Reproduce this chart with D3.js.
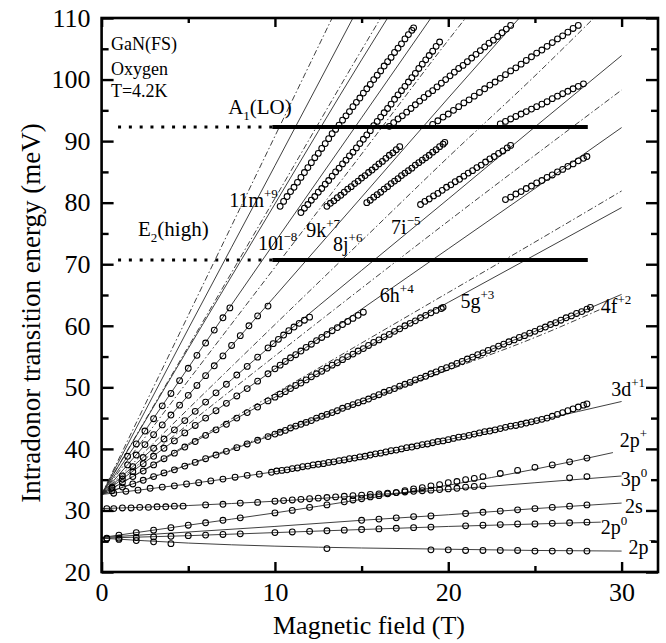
<!DOCTYPE html>
<html><head><meta charset="utf-8">
<script src="https://cdn.jsdelivr.net/npm/d3@7"></script>
<style>
body{margin:0;background:#fff}
</style></head>
<body>
<svg id="chart" width="666" height="643"></svg>
<script>
// ---- axis ticks ----
const yMajor = [20,30,40,50,60,70,80,90,100,110];
const yMinor = [25,35,45,55,65,75,85,95,105];
const xMajor = [0,10,20,30];
const xMinor = [5,15,25];

// ---- phonon energies (meV) ----
const phononLO = 92.3;   // A1(LO)
const phononE2 = 70.7;   // E2(high)

// ---- theory curves, solid (B in T, E in meV) ----
const fit2pMinus = [[0,25.5],[5,24.7],[10,24.2],[15,23.9],[20,23.7],[25,23.5],[30,23.4]];
const fit2p0 = [[0,25.5],[5,25.9],[10,26.4],[15,26.9],[20,27.4],[25,27.8],[28.8,28.1]];
const fit2s = [[0,25.6],[5,26.5],[10,27.4],[15,28.4],[20,29.3],[25,30.3],[30,31.2]];
const fit2pPlus = [[0,25.6],[5,27.6],[10,29.6],[15,31.8],[20,34.1],[25,36.7],[29.5,39.4]];
const fit3p0 = [[0,30.3],[5,30.8],[10,31.5],[15,32.4],[20,33.4],[25,34.5],[30,35.6]];
const fit3d = [[0,32.6],[5,34.3],[10,36.3],[15,38.7],[20,41.5],[25,44.5],[30,47.7]];
const fit4f = [[0,32.6],[5,37.4],[10,42.4],[15,47.7],[20,53.3],[25,59.1],[30,65.1]];
const fit5g = [[0,32.6],[5,40.6],[10,48.4],[15,56.1],[20,63.8],[25,71.5],[30,79.2]];
const fit6h = [[0,32.6],[5,43.0],[10,53.0],[15,62.7],[20,72.5],[25,82.3],[30,92.2]];
const fit7i = [[0,32.6],[5,45.1],[10,57.3],[15,69.0],[20,80.6],[25,92.3],[30,103.9]];
const fit8j = [[0,32.6],[5,48.7],[10,64.8],[15,80.9],[20,97.0],[24.1,110]];
const fit9k = [[0,32.6],[5,53.2],[10,73.6],[15,93.8],[19,110]];
const fit10l = [[0,32.6],[5,56.3],[10,79.8],[15,103.2],[16.5,110]];
const fit11m = [[0,32.6],[5,59.5],[10,86.0],[14.5,110]];

// ---- theory curves, dash-dot ----
const alt1 = [[0,32.6],[5,37.5],[10,42.6],[15,47.7],[20,52.8],[25,58.1],[28.8,62.7]];
const alt2 = [[0,32.6],[5,40.8],[10,49.0],[15,57.2],[20,65.4],[25,73.6],[30,81.9]];
const alt3 = [[0,32.6],[5,44.0],[10,55.1],[15,66.1],[20,77.0],[25,87.7],[30,98.3]];
const alt4 = [[0,32.6],[5,46.5],[10,60.2],[15,73.8],[20,87.4],[25,100.6],[28.4,110]];
const alt5 = [[0,32.6],[5,51.1],[10,69.5],[15,87.9],[20,106.4],[21,110]];
const alt6 = [[0,32.6],[5,56.6],[10,80.7],[15,104.8],[16.1,110]];
const alt7 = [[0,32.6],[5,61.7],[10,90.8],[13.3,110]];

// ---- measured transitions ----
const d2pMinus = [[0.3,25.4],[1,25.3],[2,25.1],[3,24.9],[4,24.6],[13,23.8],[19,23.6],[20,23.6],[21,23.5],[22,23.5],[23,23.5],[24,23.5],[25,23.4],[26,23.4],[27,23.4],[28,23.4]];
const d2p0 = [[0.3,25.5],[1,25.5],[2,25.6],[3,25.7],[4,25.8],[5,25.9],[6,26.0],[7,26.1],[8,26.2],[10,26.4],[11,26.5],[12,26.6],[13,26.7],[14,26.8],[15,26.9],[16,27.0],[17,27.1],[18,27.2],[19,27.3],[21,27.5],[22,27.6],[23,27.7],[24,27.8],[25,27.8],[26,27.9],[27,28.0],[28,28.1]];
const d2s = [[15,28.4],[16,28.6],[17,28.8],[18,29.0],[19,29.1],[21,29.5],[22,29.7],[23,29.9],[24,30.1],[25,30.3],[26,30.5],[27,30.7],[28,30.9]];
const d2pPlus = [[1,26.0],[2,26.4],[3,26.8],[4,27.2],[5,27.6],[6,28.0],[7,28.4],[8,28.8],[10,29.6],[11,30.0],[12,30.5],[13,30.9],[14,31.4],[14.5,31.7],[15,31.9],[15.5,32.2],[16,32.4],[16.5,32.7],[17,32.9],[17.5,33.2],[18,33.5],[18.5,33.7],[19,34.0],[19.5,34.2],[20,34.5],[20.5,34.7],[21,35.0],[21.5,35.2],[22,35.5],[23,36.0],[24,36.5],[25,37.0],[26,37.4],[27,37.9],[28,38.5]];
const d3p0 = [[0.3,30.3],[0.7,30.3],[1.2,30.4],[1.7,30.4],[2.2,30.5],[2.7,30.5],[3.2,30.6],[3.7,30.6],[4.2,30.7],[4.7,30.7],[6,30.9],[7,31.0],[8,31.2],[9,31.3],[10,31.5],[10.5,31.6],[11,31.7],[11.5,31.8],[12,31.9],[12.5,32.0],[13,32.1],[13.5,32.2],[14,32.3],[14.5,32.4],[15,32.5],[15.5,32.6],[16,32.7],[16.5,32.8],[17,32.9],[17.5,33.0],[18,33.1],[18.5,33.2],[19,33.3],[19.5,33.4],[20,33.5],[20.5,33.6],[21,33.8],[21.5,33.9],[22,34.0],[27,35.3],[28,35.5]];
const d3d = [[0.7,32.8],[1.4,33.1],[2.1,33.3],[2.8,33.6],[3.5,33.8],[4.2,34.0],[4.9,34.3],[5.6,34.5],[6.3,34.8],[7.0,35.1],[7.7,35.4],[8.4,35.7],[9.1,35.9],[9.8,36.2],
 [10.1,36.4],[10.4,36.5],[10.7,36.6],[11.0,36.8],[11.3,36.9],[11.6,37.1],[11.9,37.2],[12.2,37.4],[12.5,37.5],[12.8,37.6],[13.1,37.8],[13.4,37.9],[13.7,38.1],[14.0,38.2],[14.3,38.4],[14.6,38.5],[14.9,38.7],[15.2,38.8],[15.5,39.0],[15.8,39.2],[16.1,39.3],[16.4,39.5],[16.7,39.7],[17.0,39.8],[17.3,40.0],[17.6,40.2],[17.9,40.3],[18.2,40.5],[18.5,40.7],[18.8,40.8],[19.1,41.0],[19.4,41.2],[19.7,41.3],[20.0,41.5],[20.3,41.7],[20.6,41.9],[20.9,42.0],[21.2,42.2],[21.5,42.4],[21.8,42.6],[22.1,42.8],[22.4,42.9],[22.7,43.1],[23.0,43.3],[23.3,43.5],[23.6,43.7],[23.9,43.8],[24.2,44.0],[24.5,44.2],[24.8,44.4],[25.1,44.6],[25.4,44.8],[25.7,45.0],[26.0,45.3],[26.3,45.6],[26.6,45.9],[26.9,46.2],[27.2,46.5],[27.5,46.8],[27.8,47.1],[28.0,47.3]];
const d4f = [[0.6,33.2],[1.2,33.8],[1.8,34.3],[2.4,34.9],[3.0,35.5],[3.6,36.1],[4.2,36.6],[4.8,37.2],[5.4,37.8],[6.0,38.4],[6.6,39.0],[7.2,39.6],[7.8,40.2],[8.4,40.8],[9.0,41.4],[9.6,42.0],
 [10.0,42.4],[10.3,42.7],[10.6,43.0],[10.9,43.4],[11.2,43.7],[11.5,44.0],[11.8,44.3],[12.1,44.6],[12.4,45.0],[12.7,45.3],[13.0,45.6],[13.3,45.9],[13.6,46.2],[13.9,46.6],[14.2,46.9],[14.5,47.2],[14.8,47.5],[15.1,47.8],[15.4,48.1],[15.7,48.5],[16.0,48.8],[16.3,49.2],[16.6,49.5],[16.9,49.8],[17.2,50.2],[17.5,50.5],[17.8,50.8],[18.1,51.2],[18.4,51.5],[18.7,51.8],[19.0,52.2],[19.3,52.5],[19.6,52.9],[19.9,53.2],[20.2,53.5],[20.5,53.9],[20.8,54.2],[21.1,54.6],[21.4,54.9],[21.7,55.3],[22.0,55.6],[22.3,56.0],[22.6,56.3],[22.9,56.7],[23.2,57.0],[23.5,57.4],[23.8,57.7],[24.1,58.1],[24.4,58.4],[24.7,58.8],[25.0,59.1],[25.3,59.5],[25.6,59.8],[25.9,60.2],[26.2,60.5],[26.5,60.9],[26.8,61.3],[27.1,61.6],[27.4,62.0],[27.7,62.3],[28.0,62.7],[28.2,63.0]];
const d5g = [[0.6,33.6],[1.2,34.5],[1.8,35.5],[2.4,36.4],[3.0,37.4],[3.6,38.4],[4.2,39.3],[4.8,40.3],[5.4,41.2],[6.0,42.2],[6.6,43.1],[7.2,44.0],[7.8,45.0],[8.4,45.9],[9.0,46.8],[9.6,47.8],
 [10.0,48.4],[10.3,48.9],[10.6,49.3],[10.9,49.8],[11.2,50.3],[11.5,50.7],[11.8,51.2],[12.1,51.7],[12.4,52.2],[12.7,52.6],[13.0,53.1],[13.3,53.6],[13.6,54.0],[13.9,54.5],[14.2,55.0],[14.5,55.4],[14.8,55.9],[15.1,56.3],[15.4,56.8],[15.7,57.3],[16.0,57.7],[16.3,58.2],[16.6,58.6],[16.9,59.1],[17.2,59.5],[17.5,60.0],[17.8,60.4],[18.1,60.8],[18.4,61.3],[18.7,61.7],[19.0,62.1],[19.3,62.5],[19.6,62.8],[19.7,63.0]];
const d6h = [[0.6,33.8],[1.2,35.1],[1.8,36.3],[2.4,37.6],[3.0,38.8],[3.6,40.1],[4.2,41.3],[4.8,42.6],[5.4,43.8],[6.0,45.0],[6.6,46.2],[7.2,47.4],[7.8,48.6],[8.4,49.8],[9.0,51.0],[9.6,52.2],
 [10.0,53.0],[10.3,53.6],[10.6,54.2],[10.9,54.8],[11.2,55.3],[11.5,55.9],[11.8,56.5],[12.1,57.0],[12.4,57.6],[12.7,58.1],[13.0,58.6],[13.3,59.2],[13.6,59.7],[13.9,60.2],[14.2,60.7],[14.5,61.2],[14.8,61.7],[15.1,62.2]];
const d7i = [[1.2,35.6],[1.8,37.1],[2.4,38.6],[3.0,40.1],[3.6,41.6],[4.2,43.1],[4.8,44.6],[5.4,46.1],[6.0,47.6],[6.6,49.1],[7.2,50.5],[7.8,52.0],[8.4,53.4],[9.0,54.9],[9.6,56.4],
 [9.9,57.1],[10.2,57.8],[10.5,58.5],[10.8,59.2],[11.1,59.8],[11.4,60.4],[11.7,60.9],[12.0,61.4]];
const d8j = [[1.5,37.4],[2.0,39.0],[2.5,40.7],[3.0,42.3],[3.5,43.9],[4.0,45.5],[4.5,47.1],[5.0,48.7],[5.5,50.3],[6.0,51.9],[6.5,53.5],[7.0,55.1],[7.5,56.8],[8.0,58.4],[8.5,60.0],[9.0,61.6],[9.6,63.2]];
const d9k = [[1.5,38.8],[2.0,40.8],[2.5,42.9],[3.0,44.9],[3.5,47.0],[4.0,49.0],[4.5,51.1],[5.0,53.1],[5.5,55.2],[6.0,57.2],[6.5,59.3],[7.0,61.3],[7.4,62.9]];
// between the two phonon lines
const mA = [[10.3,79.4],[10.5,80.2],[10.7,81.0],[10.9,81.8],[11.1,82.5],[11.3,83.3],[11.5,84.1],[11.7,84.9],[11.9,85.7],[12.1,86.5],[12.3,87.3],[12.5,88.0],[12.7,88.8],[12.9,89.6],[13.1,90.4],[13.3,91.2],[13.5,91.9],[13.7,92.6],[13.9,93.4],[14.1,94.1],[14.3,94.8],[14.5,95.6],[14.7,96.3],[14.9,97.0],[15.1,97.8],[15.3,98.5],[15.5,99.2],[15.7,100.0],[15.9,100.7],[16.1,101.4],[16.3,102.2],[16.5,102.9],[16.7,103.6],[16.9,104.4],[17.1,105.1],[17.3,105.8],[17.5,106.6],[17.7,107.3],[17.9,108.0],[18.0,108.4]];
const mB = [[11.5,78.4],[11.7,79.1],[11.9,79.7],[12.1,80.4],[12.3,81.0],[12.5,81.7],[12.7,82.3],[12.9,83.0],[13.1,83.6],[13.3,84.3],[13.5,85.0],[13.7,85.6],[13.9,86.3],[14.1,86.9],[14.3,87.6],[14.5,88.2],[14.7,88.9],[14.9,89.6],[15.1,90.3],[15.3,91.0],[15.5,91.7],[15.7,92.5],[15.9,93.2],[16.1,93.9],[16.3,94.6],[16.5,95.3],[16.7,96.0],[16.9,96.8],[17.1,97.5],[17.3,98.2],[17.5,98.9],[17.7,99.6],[17.9,100.3],[18.1,101.0],[18.3,101.8],[18.5,102.5],[18.7,103.2],[18.9,103.9],[19.1,104.6],[19.3,105.4],[19.5,106.1]];
const mC = [[13.0,79.4],[13.2,79.9],[13.4,80.3],[13.6,80.8],[13.8,81.2],[14.0,81.7],[14.2,82.2],[14.4,82.6],[14.6,83.1],[14.8,83.5],[15.0,84.0],[15.2,84.4],[15.4,84.9],[15.6,85.3],[15.8,85.8],[16.0,86.3],[16.2,86.7],[16.4,87.2],[16.6,87.7],[16.8,88.1],[17.0,88.6],[17.2,89.1]];
const mF = [[15.3,80.0],[15.5,80.4],[15.7,80.9],[15.9,81.3],[16.1,81.7],[16.3,82.2],[16.5,82.6],[16.7,83.1],[16.9,83.5],[17.1,83.9],[17.3,84.4],[17.5,84.8],[17.7,85.2],[17.9,85.6],[18.1,86.1],[18.3,86.5],[18.5,86.9],[18.7,87.3],[18.9,87.7],[19.1,88.2],[19.3,88.6],[19.5,89.1],[19.7,89.5],[19.8,89.8]];
const mG = [[18.4,79.7],[18.65,80.2],[18.9,80.6],[19.15,81.1],[19.4,81.5],[19.65,82.0],[19.9,82.5],[20.15,82.9],[20.4,83.4],[20.65,83.8],[20.9,84.3],[21.15,84.8],[21.4,85.2],[21.65,85.7],[21.9,86.1],[22.15,86.6],[22.4,87.1],[22.65,87.5],[22.9,88.0],[23.15,88.4],[23.4,88.9],[23.6,89.3]];
const mH = [[23.3,80.5],[23.6,80.9],[23.9,81.4],[24.2,81.8],[24.5,82.3],[24.8,82.7],[25.1,83.2],[25.4,83.6],[25.7,84.1],[26.0,84.5],[26.3,85.0],[26.6,85.4],[26.9,85.9],[27.2,86.3],[27.5,86.8],[27.8,87.2],[28.0,87.5]];
// above A1(LO)
const uC = [[16.6,92.4],[16.85,93.0],[17.1,93.6],[17.35,94.1],[17.6,94.7],[17.85,95.3],[18.1,95.9],[18.35,96.5],[18.6,97.1],[18.85,97.7],[19.1,98.2],[19.35,98.8],[19.6,99.4],[19.85,100.0],[20.1,100.6],[20.35,101.2],[20.6,101.8],[20.85,102.3],[21.1,102.9],[21.35,103.5],[21.6,104.1],[21.85,104.7],[22.1,105.3],[22.35,105.9],[22.6,106.4],[22.85,107.0],[23.1,107.6],[23.35,108.2],[23.6,108.8]];
const uD = [[19.1,92.7],[19.4,93.3],[19.7,93.9],[20.0,94.4],[20.3,95.0],[20.6,95.6],[20.9,96.2],[21.2,96.7],[21.5,97.3],[21.8,97.9],[22.1,98.5],[22.4,99.1],[22.7,99.6],[23.0,100.2],[23.3,100.8],[23.6,101.4],[23.9,101.9],[24.2,102.5],[24.5,103.1],[24.8,103.7],[25.1,104.3],[25.4,104.8],[25.7,105.4],[26.0,106.0],[26.3,106.6],[26.6,107.1],[26.9,107.7],[27.2,108.3],[27.5,108.8]];
const uE = [[23.0,92.8],[23.3,93.2],[23.6,93.6],[23.9,94.0],[24.2,94.4],[24.5,94.8],[24.8,95.2],[25.1,95.6],[25.4,96.0],[25.7,96.4],[26.0,96.9],[26.3,97.3],[26.6,97.7],[26.9,98.1],[27.2,98.5],[27.5,98.9],[27.8,99.3]];

// ---- layout ----
const SERIF = "'Liberation Serif','Times New Roman',Times,serif";
const svg = d3.select("#chart").style("font-family", SERIF);
const X0 = 101.6, X1 = 658, Y0 = 572, Y1 = 18;
const x = d3.scaleLinear().domain([0, 32.1]).range([X0, X1]);
const y = d3.scaleLinear().domain([20, 110]).range([Y0, Y1]);

// text helper: every label carries its own serif face
const addText = (parent, size) => parent.append("text")
  .style("font-family", SERIF).style("font-size", size + "px").attr("fill", "#000");

svg.append("defs").append("clipPath").attr("id","plotclip")
  .append("rect").attr("x",X0).attr("y",Y1).attr("width",X1-X0).attr("height",Y0-Y1);

const plot = svg.append("g").attr("clip-path","url(#plotclip)");
const line = d3.line().x(d => x(d[0])).y(d => y(d[1])).curve(d3.curveMonotoneX);

// theory curves
const solidFits = [fit2pMinus, fit2p0, fit2s, fit2pPlus, fit3p0, fit3d, fit4f, fit5g, fit6h, fit7i, fit8j, fit9k, fit10l, fit11m];
const dashFits = [alt1, alt2, alt3, alt4, alt5, alt6, alt7];
plot.selectAll("path.fit").data(solidFits).join("path").attr("class","fit")
  .attr("d", line).attr("fill","none").attr("stroke","#2a2a2a").attr("stroke-width",0.9);
plot.selectAll("path.alt").data(dashFits).join("path").attr("class","alt")
  .attr("d", line).attr("fill","none").attr("stroke","#2a2a2a").attr("stroke-width",0.9)
  .attr("stroke-dasharray","6,2.5,1.5,2.5");

// phonon lines: dotted below 10 T, thick beyond
[phononLO, phononE2].forEach(e => {
  plot.append("line").attr("x1",x(0.95)).attr("x2",x(9.85)).attr("y1",y(e)).attr("y2",y(e))
    .attr("stroke","#000").attr("stroke-width",3).attr("stroke-dasharray","3,7.8");
  plot.append("line").attr("x1",x(9.85)).attr("x2",x(28.05)).attr("y1",y(e)).attr("y2",y(e))
    .attr("stroke","#000").attr("stroke-width",4);
});

// measured points
const series = [d2pMinus, d2p0, d2s, d2pPlus, d3p0, d3d, d4f, d5g, d6h, d7i, d8j, d9k, mA, mB, mC, mF, mG, mH, uC, uD, uE];
series.forEach(s => {
  plot.append("g").selectAll("circle").data(s).join("circle")
    .attr("cx", d => x(d[0])).attr("cy", d => y(d[1])).attr("r", 2.9)
    .attr("fill","none").attr("stroke","#000").attr("stroke-width",1.05);
});

// ---- axes (ticks point inward) ----
const axStyle = g => {
  g.attr("font-family", SERIF).attr("font-size", 26);
  g.select(".domain").remove();
  g.selectAll("line").attr("stroke","#000").attr("stroke-width",2.4);
  g.selectAll("text").style("font-family", SERIF).style("font-size","26px").attr("fill","#000");
};
svg.append("g").attr("transform",`translate(${X0},0)`)
  .call(d3.axisLeft(y).tickValues(yMajor).tickSize(-12).tickPadding(11).tickFormat(d3.format("d"))).call(axStyle);
svg.append("g").attr("transform",`translate(${X0},0)`)
  .call(d3.axisLeft(y).tickValues(yMinor).tickSize(-7).tickFormat("")).call(axStyle);
svg.append("g").attr("transform",`translate(${X1},0)`)
  .call(d3.axisRight(y).tickValues(yMajor).tickSize(-12).tickFormat("")).call(axStyle);
svg.append("g").attr("transform",`translate(${X1},0)`)
  .call(d3.axisRight(y).tickValues(yMinor).tickSize(-7).tickFormat("")).call(axStyle);
svg.append("g").attr("transform",`translate(0,${Y0})`)
  .call(d3.axisBottom(x).tickValues(xMajor).tickSize(-10).tickPadding(11).tickFormat(d3.format("d"))).call(axStyle);
svg.append("g").attr("transform",`translate(0,${Y0})`)
  .call(d3.axisBottom(x).tickValues(xMinor).tickSize(-6).tickFormat("")).call(axStyle);
svg.append("g").attr("transform",`translate(0,${Y1})`)
  .call(d3.axisTop(x).tickValues(xMajor).tickSize(-9).tickFormat("")).call(axStyle);
svg.append("g").attr("transform",`translate(0,${Y1})`)
  .call(d3.axisTop(x).tickValues(xMinor).tickSize(-5).tickFormat("")).call(axStyle);

svg.append("rect").attr("x",X0).attr("y",Y1).attr("width",X1-X0).attr("height",Y0-Y1)
  .attr("fill","none").attr("stroke","#000").attr("stroke-width",2.6);

// axis titles
addText(svg, 26).attr("x",369).attr("y",634).attr("text-anchor","middle").text("Magnetic field (T)");
addText(svg, 27).attr("transform","translate(40,313) rotate(-90)").attr("text-anchor","middle")
  .text("Intradonor transition energy (meV)");

// sample description
["GaN(FS)","Oxygen","T=4.2K"].forEach((t,i) => {
  addText(svg, 18).attr("x",x(0.54)).attr("y",[50,75,97][i]).text(t);
});

// phonon labels
function subLabel(B, E, main, sub, rest) {
  const t = addText(svg, 21).attr("x", x(B)).attr("y", y(E));
  t.append("tspan").text(main);
  t.append("tspan").attr("dy",6).style("font-size","13px").text(sub);
  t.append("tspan").attr("dy",-6).text(rest);
}
subLabel(7.3, 94.4, "A", "1", "(LO)");
subLabel(2.1, 74.6, "E", "2", "(high)");

// state labels with superscripts
const stateLabels = [
  ["11m","+9",7.36,79.3],["10l","\u22128",9.02,72.3],["9k","+7",11.8,74.4],["8j","+6",13.35,72.1],
  ["7i","\u22125",16.7,74.9],["6h","+4",16.05,63.9],["5g","+3",20.7,62.9],["4f","+2",28.8,62.0],
  ["3d","+1",29.4,48.6],["2p","+",29.9,40.3],["3p","0",29.95,34.0],["2s","",30.2,29.6],
  ["2p","0",28.8,26.2],["2p","\u2212",30.4,23.0]
];
stateLabels.forEach(([m, s, B, E]) => {
  const t = addText(svg, 20).attr("x", x(B)).attr("y", y(E));
  t.append("tspan").text(m);
  if (s) t.append("tspan").attr("dy",-9).style("font-size","13px").text(s);
});
</script>
</body></html>
